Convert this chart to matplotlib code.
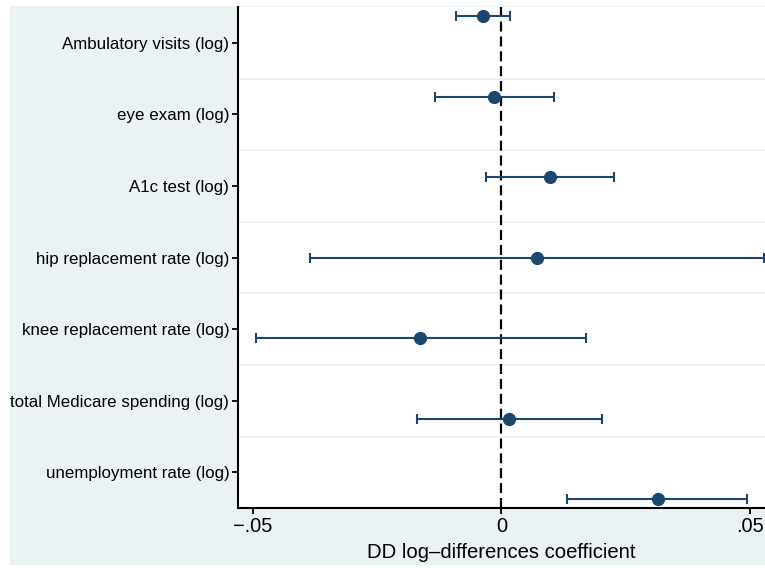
import matplotlib
matplotlib.use("Agg")
import matplotlib.pyplot as plt
import numpy as np
from matplotlib.patches import Rectangle

categories = ["Ambulatory visits (log)", "eye exam (log)", "A1c test (log)",
              "hip replacement rate (log)", "knee replacement rate (log)",
              "total Medicare spending (log)", "unemployment rate (log)"]
coef = [-0.0036, -0.0015, 0.0098, 0.0071, -0.0163, 0.0016, 0.0314]
ci_low = [-0.0091, -0.0134, -0.0031, -0.0385, -0.0493, -0.0170, 0.0132]
ci_high = [0.0017, 0.0105, 0.0227, 0.0528, 0.0170, 0.0202, 0.0494]
xticks = [-0.05, 0, 0.05]
xticklabels = ["\u2212.05", "0", ".05"]
xlabel = "DD log\u2013differences coefficient"

plt.rcParams['font.family'] = ['Liberation Sans', 'DejaVu Sans']

navy = (26/255, 71/255, 111/255)
bg = (234/255, 242/255, 243/255)

fig = plt.figure(figsize=(7.65, 5.68), dpi=100)
fig.patch.set_facecolor("white")
fig.patches.append(Rectangle((10/765, 3/568), 1 - 10/765, 1 - 9/568,
                             transform=fig.transFigure, facecolor=bg,
                             edgecolor="none", zorder=-10))

ax = fig.add_axes([238.3/765, 1 - 508.3/568, 1 - 238.3/765, (508.3 - 7)/568])
ax.set_facecolor("white")

n = len(categories)
label_pos = np.arange(1, n + 1)
point_pos = np.linspace(0.625, n + 0.375, n)

for g in np.arange(1.5, n, 1.0):
    ax.axhline(g, color=bg, lw=1.2, zorder=0)

ax.axvline(0, color="black", lw=1.6, dashes=(4.5, 2.2), zorder=1)

coef_a = np.array(coef)
err = [coef_a - np.array(ci_low), np.array(ci_high) - coef_a]
ax.errorbar(coef, point_pos, xerr=err, fmt="o", color=navy, ms=8.5,
            elinewidth=1.5, capsize=3.5, capthick=1.5, zorder=3, clip_on=False)

ax.set_xlim(-0.0529, 0.0530)
ax.set_ylim(n + 0.5, 0.5)
ax.set_yticks(label_pos)
ax.set_yticklabels(categories, fontsize=12.2)
ax.set_xticks(xticks)
ax.set_xticklabels(xticklabels, fontsize=14.4)
ax.set_xlabel(xlabel, fontsize=14.6, labelpad=5)

for s in ["top", "right"]:
    ax.spines[s].set_visible(False)
for s in ["left", "bottom"]:
    ax.spines[s].set_linewidth(1.5)
    ax.spines[s].set_color("black")
ax.tick_params(axis="both", direction="out", length=4.5, width=1.3, color="black")
ax.tick_params(axis="y", pad=2)
ax.tick_params(axis="x", pad=2)

fig.savefig("out.png", dpi=100)
